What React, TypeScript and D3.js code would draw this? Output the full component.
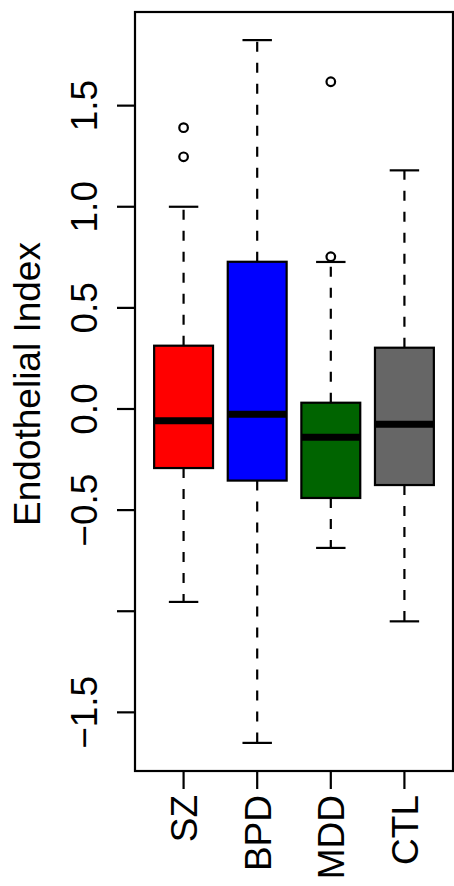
import React from 'react';
import * as d3 from 'd3';

// values
const groups = ["SZ", "BPD", "MDD", "CTL"];
const lowerWhisker = [-0.954, -1.651, -0.687, -1.05];
const lowerHinge = [-0.292, -0.354, -0.44, -0.376];
const medians = [-0.058, -0.026, -0.14, -0.076];
const upperHinge = [0.313, 0.728, 0.031, 0.303];
const upperWhisker = [1.0, 1.824, 0.727, 1.18];
const outliers = [[1.391, 1.247], [], [1.618, 0.753], []];
const yTicks = [-1.5, -1, -0.5, 0, 0.5, 1, 1.5];
const yTickLabels = ["\u22121.5", "", "\u22120.5", "0.0", "0.5", "1.0", "1.5"];

const width = 454, height = 886;
const left = 135, right = 453, top = 12, bottom = 771;
const font = "'Liberation Sans', Arial, Helvetica, sans-serif";

export default function App() {
  const all = [...lowerWhisker, ...upperWhisker, ...outliers.flat()];
  const lo = d3.min(all)!, hi = d3.max(all)!;
  const pad = (hi - lo) * 0.04;

  const y = d3.scaleLinear().domain([lo - pad, hi + pad]).range([bottom, top]);
  const n = groups.length;
  const xPad = n * 0.04;
  const x = d3.scaleLinear().domain([0.5 - xPad, n + 0.5 + xPad]).range([left, right]);
  const color = d3.scaleOrdinal<string, string>()
    .domain(groups)
    .range(["#ff0000", "#0000ff", "#006400", "#666666"]);

  const half = x(1.4) - x(1);
  const capHalf = x(1.2) - x(1);

  return (
    <svg width={width} height={height}
      style={{ position: "absolute", left: 0, top: 0, background: "#fff" }}
      fontFamily={font}>
      {groups.map((g, i) => {
        const cx = x(i + 1);
        return (
          <g key={g}>
            <line x1={cx} x2={cx} y1={y(upperHinge[i])} y2={y(upperWhisker[i])}
              stroke="#000" strokeWidth={2.2} strokeDasharray="10,11" />
            <line x1={cx} x2={cx} y1={y(lowerHinge[i])} y2={y(lowerWhisker[i])}
              stroke="#000" strokeWidth={2.2} strokeDasharray="10,11" />
            <line x1={cx - capHalf} x2={cx + capHalf} y1={y(upperWhisker[i])} y2={y(upperWhisker[i])}
              stroke="#000" strokeWidth={2.2} />
            <line x1={cx - capHalf} x2={cx + capHalf} y1={y(lowerWhisker[i])} y2={y(lowerWhisker[i])}
              stroke="#000" strokeWidth={2.2} />
            <rect x={cx - half} width={half * 2}
              y={y(upperHinge[i])} height={y(lowerHinge[i]) - y(upperHinge[i])}
              fill={color(g)} stroke="#000" strokeWidth={2.2} />
            <line x1={cx - half} x2={cx + half} y1={y(medians[i])} y2={y(medians[i])}
              stroke="#000" strokeWidth={7} />
            {outliers[i].map((v, j) => (
              <circle key={j} cx={cx} cy={y(v)} r={4.3} fill="none" stroke="#000" strokeWidth={2.2} />
            ))}
          </g>
        );
      })}

      {/* frame */}
      <rect x={left} y={top} width={right - left} height={bottom - top}
        fill="none" stroke="#000" strokeWidth={2.2} />

      {/* y axis */}
      {yTicks.map((t, i) => (
        <g key={t}>
          <line x1={left - 18} x2={left} y1={y(t)} y2={y(t)} stroke="#000" strokeWidth={2.2} />
          <text transform={`translate(97,${y(t)}) rotate(-90)`} textAnchor="middle" fontSize={37}>
            {yTickLabels[i]}
          </text>
        </g>
      ))}
      <text transform={`translate(40,384) rotate(-90)`} textAnchor="middle" fontSize={37}>
        Endothelial Index
      </text>

      {/* x axis */}
      {groups.map((g, i) => (
        <g key={g}>
          <line x1={x(i + 1)} x2={x(i + 1)} y1={bottom} y2={bottom + 18} stroke="#000" strokeWidth={2.2} />
          <text transform={`translate(${x(i + 1) + 13.5},795) rotate(-90)`} textAnchor="end" fontSize={37}>
            {g}
          </text>
        </g>
      ))}
    </svg>
  );
}
